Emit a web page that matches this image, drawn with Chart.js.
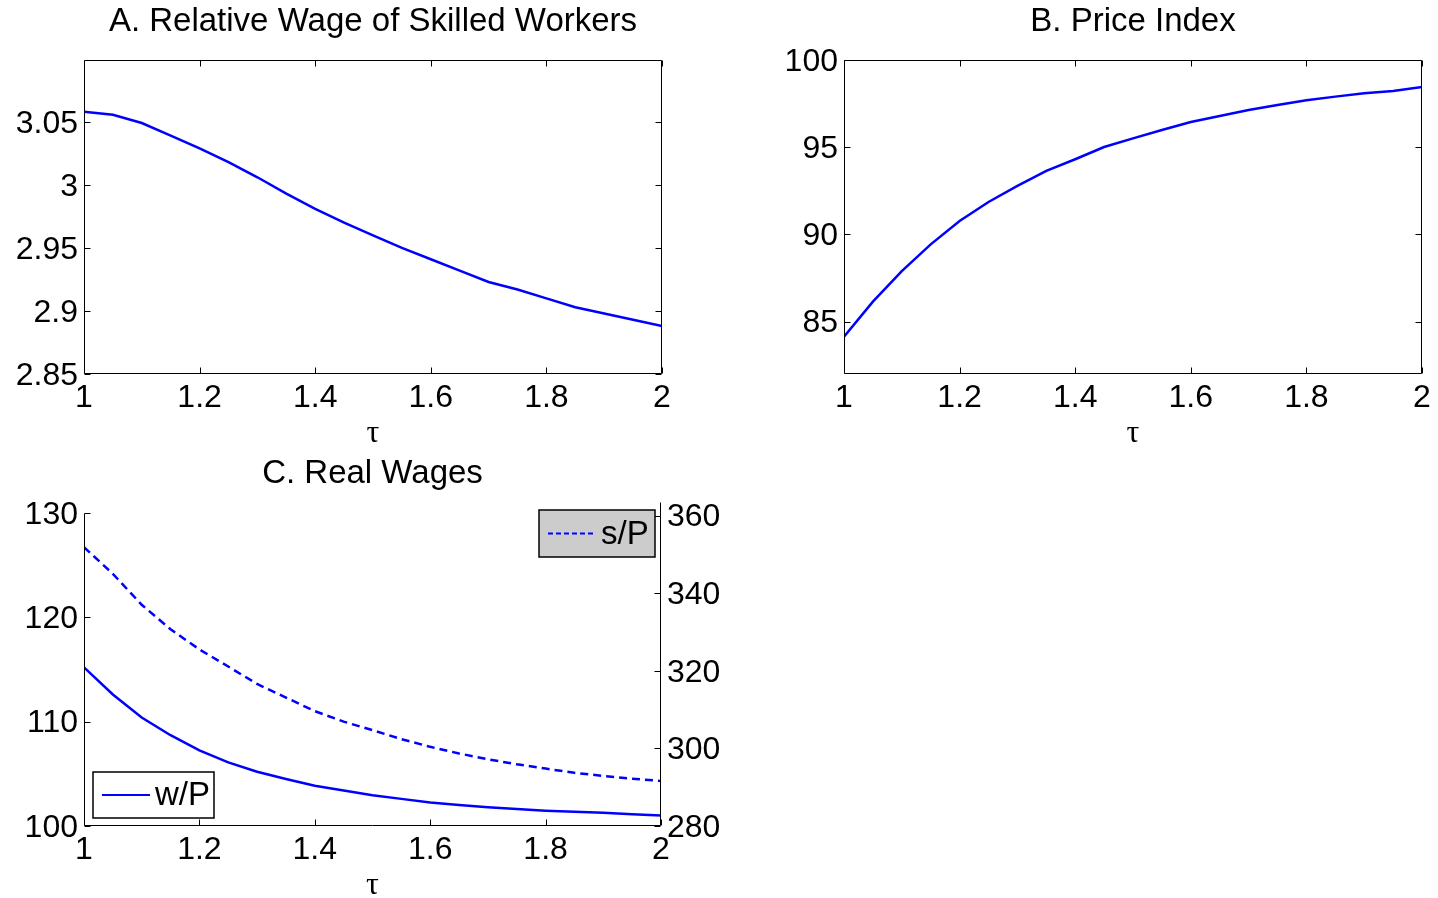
<!DOCTYPE html>
<html>
<head>
<meta charset="utf-8">
<script src="https://cdn.jsdelivr.net/npm/chart.js@4.4.1/dist/chart.umd.min.js"></script>
<style>
    body { margin: 0; background: #fff; width: 1438px; height: 898px; position: relative; overflow: hidden; }
    canvas { position: absolute; }
    #chartA { left: 0; top: 0; }
    #chartB { left: 760px; top: 0; }
    #chartC { left: 0; top: 449px; }
</style>
</head>
<body>
<canvas id="chartA" width="720" height="449"></canvas>
<canvas id="chartB" width="678" height="449"></canvas>
<canvas id="chartC" width="720" height="449"></canvas>
<script>
const TAU = [1, 1.05, 1.1, 1.15, 1.2, 1.25, 1.3, 1.35, 1.4, 1.45, 1.5, 1.55, 1.6, 1.65, 1.7, 1.75, 1.8, 1.85, 1.9, 1.95, 2];
const REL_WAGE = [3.058, 3.0555, 3.049, 3.039, 3.029, 3.018, 3.006, 2.993, 2.981, 2.970, 2.960, 2.950, 2.941, 2.932, 2.923, 2.917, 2.910, 2.903, 2.898, 2.893, 2.888];
const PRICE_INDEX = [84.14, 86.15, 87.9, 89.43, 90.77, 91.86, 92.78, 93.64, 94.31, 95.01, 95.51, 95.99, 96.45, 96.79, 97.13, 97.42, 97.69, 97.9, 98.1, 98.22, 98.45];
const REAL_W = [115.2, 112.6, 110.4, 108.7, 107.25, 106.1, 105.2, 104.5, 103.86, 103.4, 102.95, 102.6, 102.25, 102.02, 101.8, 101.62, 101.47, 101.36, 101.26, 101.12, 101.0];
const REAL_S = [351.85, 345.0, 337.0, 330.7, 325.5, 321.1, 316.6, 313.1, 309.6, 306.9, 304.7, 302.4, 300.4, 298.7, 297.2, 295.9, 294.8, 293.7, 292.9, 292.2, 291.6];

const X_TICKS = [1, 1.2, 1.4, 1.6, 1.8, 2];
const A_TICKS = [2.85, 2.9, 2.95, 3, 3.05];
const B_TICKS = [85, 90, 95, 100];
const C_LEFT_TICKS = [100, 110, 120, 130];
const C_RIGHT_TICKS = [280, 300, 320, 340, 360];

const TITLE_A = 'A. Relative Wage of Skilled Workers';
const TITLE_B = 'B. Price Index';
const TITLE_C = 'C. Real Wages';
const X_LABEL = 'τ';
const LABEL_W = 'w/P';
const LABEL_S = 's/P';

const BLUE = '#0000ff';
const SANS = '"Liberation Sans", Arial, sans-serif';
const TICK_LEN = 6;

Chart.defaults.font.family = SANS;
Chart.defaults.font.size = 32;
Chart.defaults.color = '#000';

function toPoints(values) {
    return TAU.map((t, i) => ({ x: t, y: values[i] }));
}

function fmt(v) {
    return String(+v.toFixed(2));
}

function xScale(height) {
    return {
        type: 'linear',
        min: 1,
        max: 2,
        grid: { display: false, drawTicks: false },
        border: { display: false },
        ticks: { padding: 5, maxRotation: 0, autoSkip: false, callback: fmt },
        afterBuildTicks: s => { s.ticks = X_TICKS.map(v => ({ value: v })); },
        afterFit: s => { s.height = height; }
    };
}

function yScale(pos, min, max, tickList, width) {
    return {
        type: 'linear',
        position: pos,
        min: min,
        max: max,
        grid: { display: false, drawTicks: false },
        border: { display: false },
        ticks: { padding: 6, labelOffset: 2, autoSkip: false, callback: fmt },
        afterBuildTicks: s => { s.ticks = tickList.map(v => ({ value: v })); },
        afterFit: s => { s.width = width; }
    };
}

function px(v) { return Math.round(v) + 0.5; }

// MATLAB style frame: inward ticks, box, title, xlabel and legend boxes
const matlabFrame = {
    id: 'matlabFrame',
    afterDatasetsDraw(chart, args, opts) {
        const { ctx, chartArea: a, scales } = chart;
        const L = px(a.left), R = px(a.right - 1), T = px(a.top), B = px(a.bottom - 1);
        ctx.save();
        ctx.strokeStyle = '#000';
        ctx.lineWidth = 1;
        ctx.beginPath();
        if (opts.box) {
            ctx.rect(L, T, R - L, B - T);
        } else {
            const topLeft = px(scales.y.getPixelForValue(scales.y.ticks[scales.y.ticks.length - 1].value));
            ctx.moveTo(L, topLeft); ctx.lineTo(L, B);
            ctx.lineTo(R, B);
            ctx.moveTo(R, T); ctx.lineTo(R, B);
        }
        scales.x.ticks.forEach(t => {
            const x = px(scales.x.getPixelForValue(t.value));
            ctx.moveTo(x, B); ctx.lineTo(x, B - TICK_LEN);
            if (opts.box) { ctx.moveTo(x, T); ctx.lineTo(x, T + TICK_LEN); }
        });
        scales.y.ticks.forEach(t => {
            const y = px(scales.y.getPixelForValue(t.value));
            ctx.moveTo(L, y); ctx.lineTo(L + TICK_LEN, y);
            if (opts.box) { ctx.moveTo(R, y); ctx.lineTo(R - TICK_LEN, y); }
        });
        if (scales.y2) {
            scales.y2.ticks.forEach(t => {
                const y = px(scales.y2.getPixelForValue(t.value));
                ctx.moveTo(R, y); ctx.lineTo(R - TICK_LEN, y);
            });
        }
        ctx.stroke();

        const cx = (a.left + a.right) / 2;
        ctx.fillStyle = '#000';
        ctx.textAlign = 'center';
        ctx.textBaseline = 'middle';
        ctx.font = '33px ' + SANS;
        ctx.fillText(opts.title, cx, opts.titleY);
        ctx.font = '32px "Liberation Serif", serif';
        ctx.fillText(X_LABEL, cx, a.bottom + 60);

        (opts.legends || []).forEach(lg => {
            const ds = chart.data.datasets[lg.dataset];
            const bx = lg.corner === 'tr' ? a.right - 6 - lg.w : a.left + 9;
            const by = lg.corner === 'tr' ? a.top + 8 : a.bottom - 8 - lg.h;
            ctx.fillStyle = lg.fill;
            ctx.fillRect(bx, by, lg.w, lg.h);
            ctx.lineWidth = 1.5;
            ctx.strokeStyle = '#000';
            ctx.strokeRect(bx, by, lg.w, lg.h);
            ctx.beginPath();
            ctx.strokeStyle = ds.borderColor;
            ctx.lineWidth = 2;
            ctx.setLineDash(ds.borderDash && ds.borderDash.length ? [5, 3] : []);
            ctx.moveTo(bx + 9, by + lg.h / 2);
            ctx.lineTo(bx + 57, by + lg.h / 2);
            ctx.stroke();
            ctx.setLineDash([]);
            ctx.fillStyle = '#000';
            ctx.textAlign = 'left';
            ctx.font = '33px ' + SANS;
            ctx.fillText(ds.label, bx + 62, by + lg.h / 2 + 1);
        });
        ctx.restore();
    }
};

function lineDataset(label, values, axis, dash) {
    return {
        label: label,
        data: toPoints(values),
        yAxisID: axis,
        borderColor: BLUE,
        borderWidth: 2.5,
        borderDash: dash,
        pointRadius: 0,
        tension: 0,
        fill: false
    };
}

function baseOptions(padding, scales, frame) {
    return {
        responsive: false,
        animation: false,
        layout: { padding: padding },
        scales: scales,
        plugins: {
            legend: { display: false },
            title: { display: false },
            tooltip: { enabled: false },
            matlabFrame: frame
        }
    };
}

function drawPanelA() {
    new Chart(document.getElementById('chartA'), {
        type: 'line',
        data: { datasets: [lineDataset('A', REL_WAGE, 'y', [])] },
        options: baseOptions(
            { top: 60, right: 58, left: 0, bottom: 0 },
            { x: xScale(75), y: yScale('left', 2.85, 3.099, A_TICKS, 84) },
            { box: true, title: TITLE_A, titleY: 22 }
        ),
        plugins: [matlabFrame]
    });
}

function drawPanelB() {
    new Chart(document.getElementById('chartB'), {
        type: 'line',
        data: { datasets: [lineDataset('B', PRICE_INDEX, 'y', [])] },
        options: baseOptions(
            { top: 60, right: 16, left: 0, bottom: 0 },
            { x: xScale(75), y: yScale('left', 82, 100, B_TICKS, 84) },
            { box: true, title: TITLE_B, titleY: 22 }
        ),
        plugins: [matlabFrame]
    });
}

function drawPanelC() {
    new Chart(document.getElementById('chartC'), {
        type: 'line',
        data: {
            datasets: [
                lineDataset(LABEL_W, REAL_W, 'y', []),
                lineDataset(LABEL_S, REAL_S, 'y2', [8, 5])
            ]
        },
        options: baseOptions(
            { top: 53, right: 0, left: 0, bottom: 0 },
            {
                x: xScale(72),
                y: yScale('left', 100, 131.05, C_LEFT_TICKS, 84),
                y2: yScale('right', 280, 363.5, C_RIGHT_TICKS, 59)
            },
            {
                box: false, title: TITLE_C, titleY: 25,
                legends: [
                    { dataset: 1, corner: 'tr', w: 116, h: 47, fill: '#cccccc' },
                    { dataset: 0, corner: 'bl', w: 121, h: 46, fill: '#ffffff' }
                ]
            }
        ),
        plugins: [matlabFrame]
    });
}

drawPanelA();
drawPanelB();
drawPanelC();
</script>
</body>
</html>
